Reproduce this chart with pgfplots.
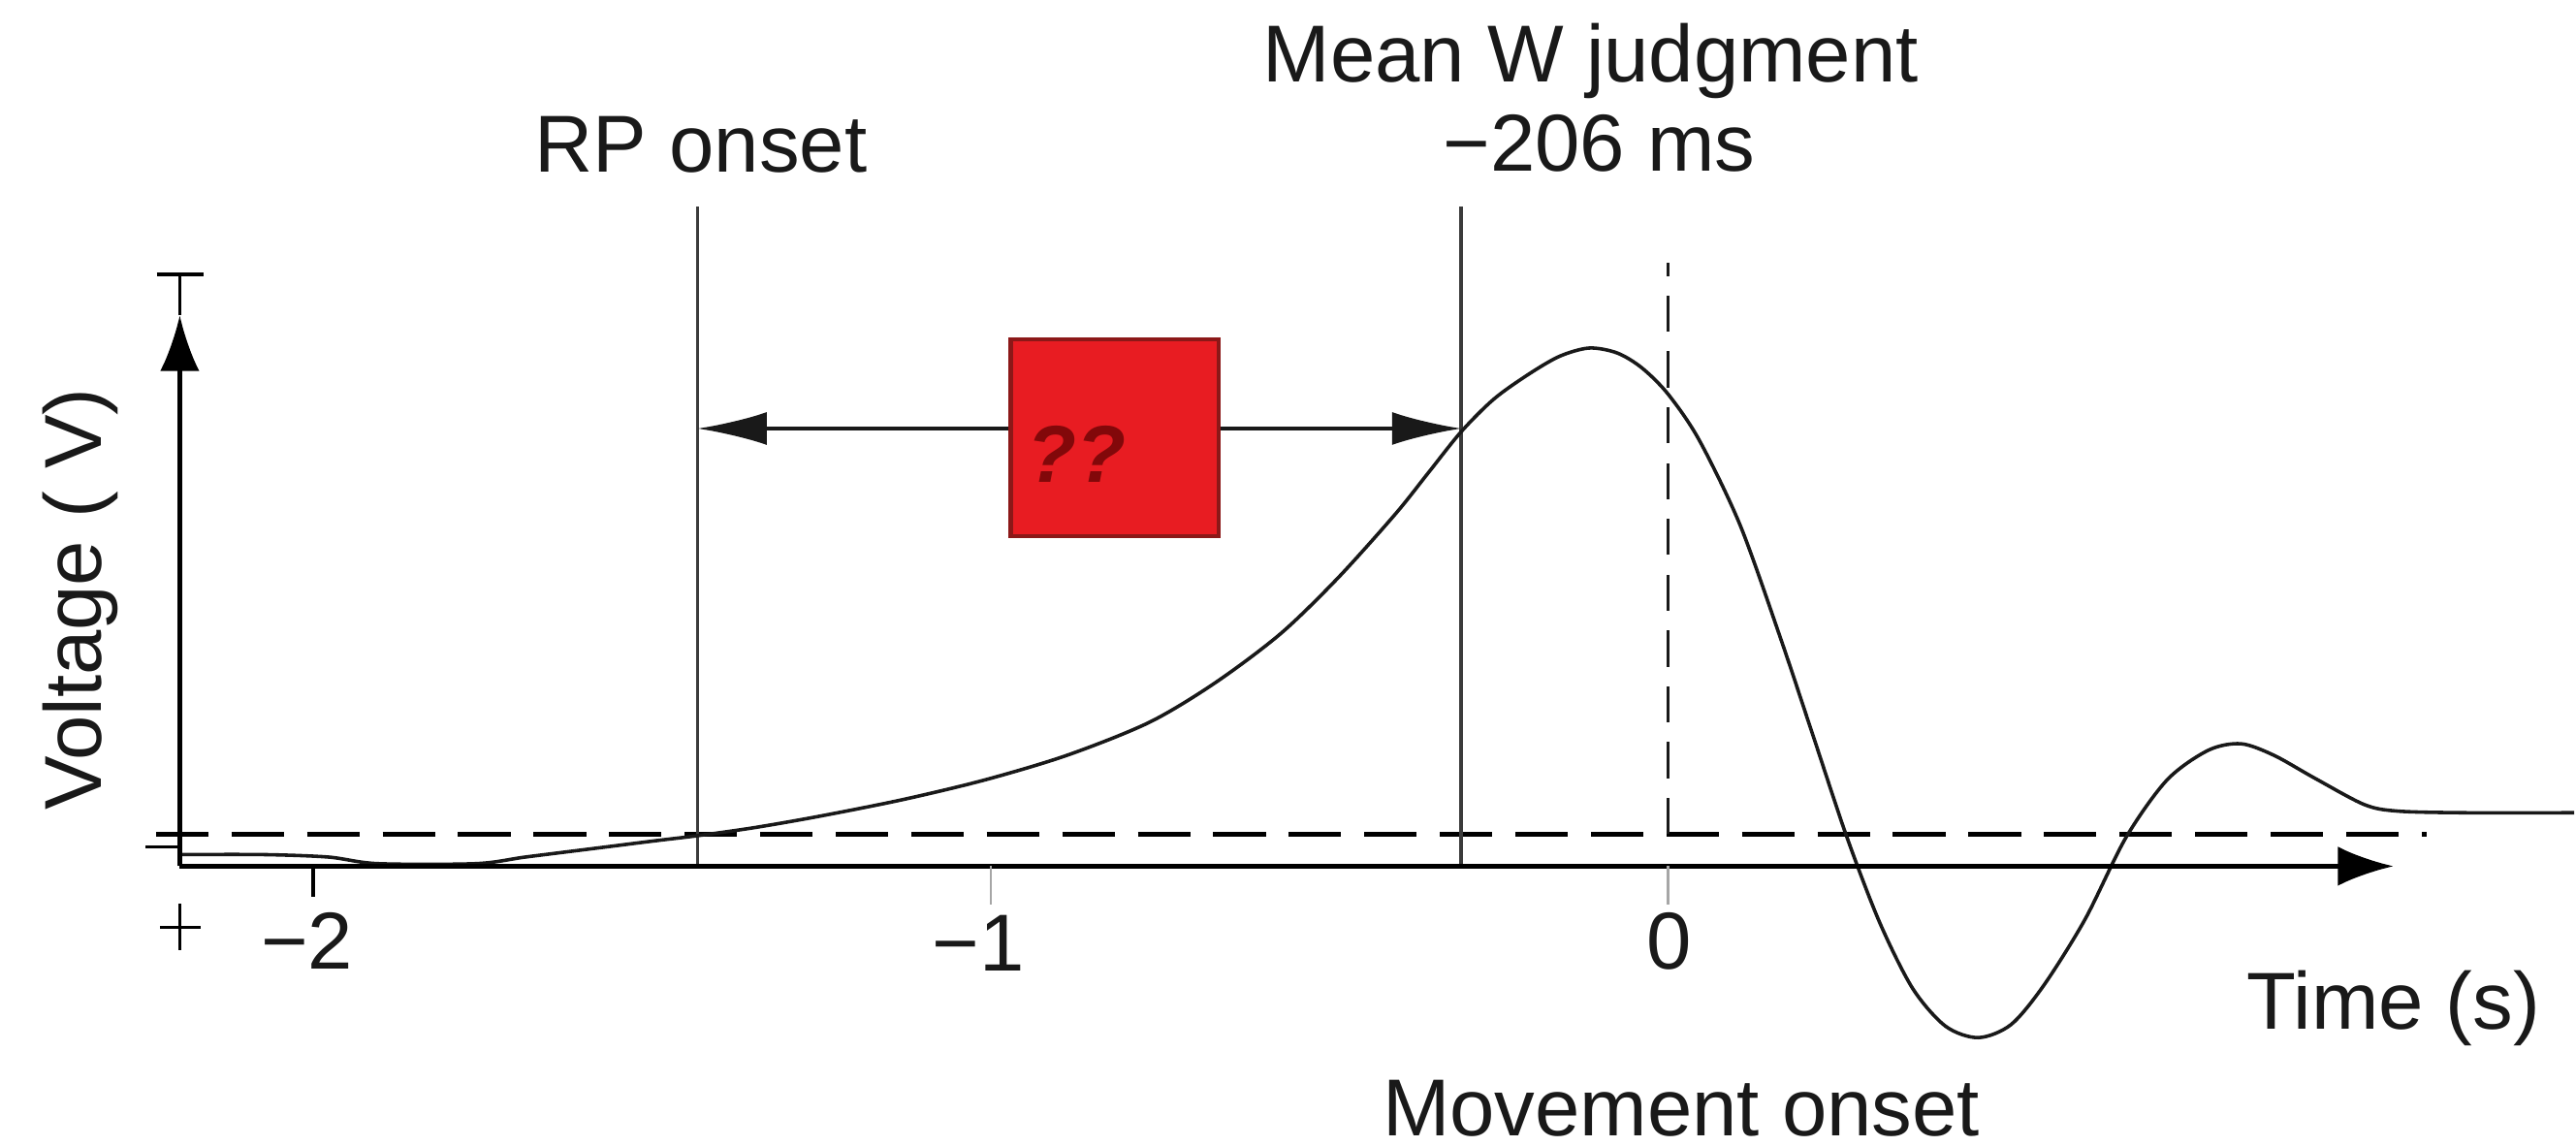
\documentclass[border=0pt]{standalone}
\usepackage{fontspec}
\setmainfont{Liberation Sans}
\usepackage{pgfplots}
\pgfplotsset{compat=1.18}
\usetikzlibrary{arrows.meta}
\definecolor{boxred}{RGB}{232,28,34}
\definecolor{boxedge}{RGB}{140,24,24}
\definecolor{qred}{RGB}{130,8,10}
\definecolor{ink}{RGB}{25,25,25}
\begin{document}
\begin{tikzpicture}[every node/.style={font=\fontsize{14pt}{17pt}\selectfont, text=ink, inner sep=0pt}]
\begin{axis}[hide axis, scale only axis, width=15.68cm, height=6.98cm,
  xmin=-2.4624, xmax=1.3379, ymin=-6.333, ymax=16.933, clip=false]
\path (rel axis cs:0,0) rectangle (rel axis cs:1,1);

% dashed baseline
\addplot[black, line width=0.8pt, dash pattern=on 0.32cm off 0.14cm] coordinates {(-2.2322,0) (1.1197,0)};
% dashed vertical at movement onset
\addplot[ink, line width=0.6pt, dash pattern=on 0.22cm off 0.12cm] coordinates {(0,0) (0,11.6)};

% vertical lines: RP onset and mean W judgment
\addplot[ink!85, line width=0.55pt] coordinates {(-1.4324,-0.653) (-1.4324,12.743)};
\addplot[ink!85, line width=0.55pt] coordinates {(-0.3054,-0.653) (-0.3054,12.743)};

% horizontal double arrow
\addplot[ink, line width=0.55pt, {Latex[length=0.42cm,width=0.2cm]}-{Latex[length=0.42cm,width=0.2cm]}] coordinates {(-1.4324,8.233) (-0.3054,8.233)};

% readiness potential curve
\addplot[ink, line width=0.6pt, smooth, tension=0.5] coordinates {
(-2.1958,-0.417) (-2.0746,-0.417) (-1.9777,-0.467) (-1.9050,-0.6) (-1.7596,-0.6)
(-1.6869,-0.467) (-1.5899,-0.3) (-1.4930,-0.133) (-1.4324,-0.033) (-1.3475,0.133)
(-1.2506,0.367) (-1.1294,0.7) (-1.0082,1.1) (-0.8870,1.6) (-0.7659,2.267)
(-0.6689,3.067) (-0.5720,4.067) (-0.4872,5.2) (-0.4023,6.5) (-0.3539,7.333)
(-0.3054,8.167) (-0.2569,8.833) (-0.2060,9.333) (-0.1600,9.7) (-0.1163,9.867)
(-0.0751,9.767) (-0.0388,9.467) (0,8.933) (0.0460,8.0) (0.1066,6.267)
(0.1672,3.933) (0.2157,1.933) (0.2642,-0.067) (0.3126,-1.8) (0.3611,-3.133)
(0.4096,-3.9) (0.4581,-4.133) (0.5065,-3.867) (0.5550,-3.067) (0.6156,-1.733)
(0.6762,-0.067) (0.7368,1.1) (0.7974,1.7) (0.8458,1.833) (0.8943,1.6)
(0.9549,1.133) (1.0276,0.6) (1.0761,0.467) (1.1730,0.433) (1.3379,0.433)
};

% axes
\addplot[black, line width=0.75pt, -{Latex[length=0.34cm,width=0.24cm]}] coordinates {(-2.1970,-0.653) (-2.1970,10.533)};
\addplot[black, line width=0.5pt] coordinates {(-2.1970,10.533) (-2.1970,11.367)};
\addplot[black, line width=0.6pt] coordinates {(-2.2309,11.367) (-2.1619,11.367)};
\addplot[black, line width=0.75pt, -{Latex[length=0.34cm,width=0.24cm]}] coordinates {(-2.1970,-0.653) (1.0712,-0.653)};
\addplot[black, line width=0.6pt] coordinates {(-2.2479,-0.26) (-2.1958,-0.26)};
% ticks
\addplot[black, line width=0.7pt] coordinates {(-2.0003,-0.653) (-2.0003,-1.267)};
\addplot[black!35, line width=0.4pt] coordinates {(-1.0,-0.653) (-1.0,-1.433)};
\addplot[black!35, line width=0.4pt] coordinates {(0,-0.653) (0,-1.433)};
% small cross
\addplot[black, line width=0.5pt] coordinates {(-2.2266,-1.887) (-2.1660,-1.887)};
\addplot[black, line width=0.5pt] coordinates {(-2.1963,-1.42) (-2.1963,-2.354)};

% red box with question marks
\fill[boxred, draw=boxedge, line width=0.7pt] (axis cs:-0.9704,6.053) rectangle (axis cs:-0.6628,10.05);
\node[text=qred, font=\fontsize{14pt}{17pt}\selectfont\bfseries\itshape] at (axis cs:-0.8725,7.717) {??};

% labels
\node[anchor=base] at (axis cs:-2.0092,-2.75) {−2};
\node[anchor=base] at (axis cs:-1.0179,-2.78) {−1};
\node[anchor=base] at (axis cs:0.0024,-2.75) {0};
\node[anchor=base] at (axis cs:1.0712,-3.967) {Time (s)};
\node[anchor=base] at (axis cs:0.0194,-6.133) {Movement onset};
\node[anchor=base] at (axis cs:-1.4275,13.433) {RP onset};
\node[anchor=base] at (axis cs:-0.1139,15.267) {Mean W judgment};
\node[anchor=base] at (axis cs:-0.1018,13.467) {−206 ms};
\node[anchor=base, rotate=90] at (axis cs:-2.3122,4.767) {Voltage ( V)};
\end{axis}
\end{tikzpicture}
\end{document}
